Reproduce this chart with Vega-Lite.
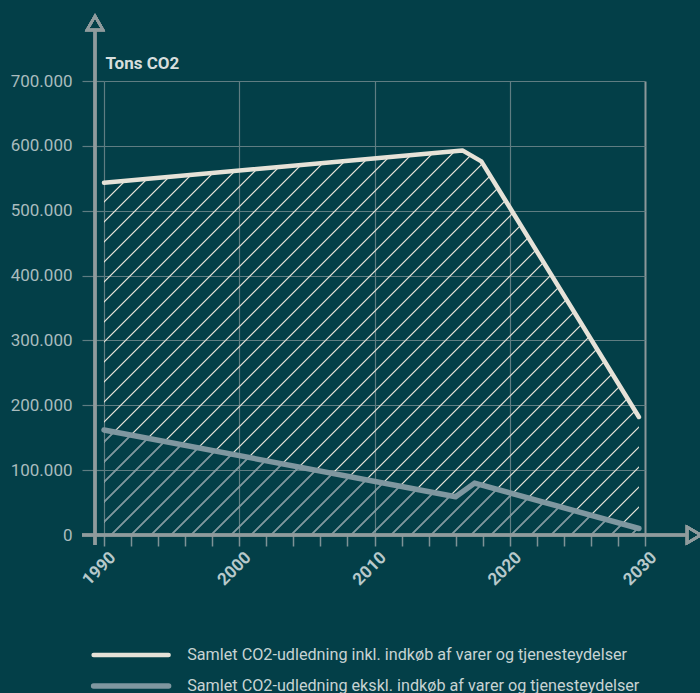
{
  "$schema": "https://vega.github.io/schema/vega-lite/v6.json",
  "width": 541,
  "height": 454,
  "autosize": "none",
  "padding": {"left": 104, "top": 81, "right": 55, "bottom": 158},
  "background": "#033f48",
  "config": {
    "view": {"stroke": null},
    "axis": {"domain": false, "labelOverlap": false},
    "axisX": {"labelOverlap": false, "labelFlush": false},
    "legend": {
      "orient": "none", "legendX": 19, "legendY": 566, "title": null, "direction": "vertical",
      "symbolType": "M-7.5,0H7.5", "symbolSize": 100, "symbolStrokeWidth": 5,
      "labelFont": "Roboto", "labelFontSize": 16.2, "labelColor": "#c7d3d3", "labelOffset": 48,
      "rowPadding": 10, "padding": 0, "labelLimit": 600
    }
  },
  "data": {
    "values": [
      {"year": 1990, "value": 543000, "k": "inkl", "serie": "Samlet CO2-udledning inkl. indkøb af varer og tjenesteydelser"},
      {"year": 2016.5, "value": 593000, "k": "inkl", "serie": "Samlet CO2-udledning inkl. indkøb af varer og tjenesteydelser"},
      {"year": 2017.9, "value": 576000, "k": "inkl", "serie": "Samlet CO2-udledning inkl. indkøb af varer og tjenesteydelser"},
      {"year": 2029.55, "value": 182000, "k": "inkl", "serie": "Samlet CO2-udledning inkl. indkøb af varer og tjenesteydelser"},
      {"year": 1990, "value": 162000, "k": "ekskl", "serie": "Samlet CO2-udledning ekskl. indkøb af varer og tjenesteydelser"},
      {"year": 2016, "value": 59000, "k": "ekskl", "serie": "Samlet CO2-udledning ekskl. indkøb af varer og tjenesteydelser"},
      {"year": 2017.4, "value": 80000, "k": "ekskl", "serie": "Samlet CO2-udledning ekskl. indkøb af varer og tjenesteydelser"},
      {"year": 2029.55, "value": 10000, "k": "ekskl", "serie": "Samlet CO2-udledning ekskl. indkøb af varer og tjenesteydelser"}
    ]
  },
  "layer": [
    {
      "transform": [{"filter": "datum.k == 'inkl'"}],
      "mark": {
        "type": "area",
        "color": {
          "gradient": "linear", "x1": 0, "y1": 0, "x2": 1.13319, "y2": 0.81476,
          "stops": [
            {"offset": 0.011215, "color": "rgba(230,226,216,0)"}, {"offset": 0.012115, "color": "#e6e2d8"}, {"offset": 0.013115, "color": "#e6e2d8"}, {"offset": 0.014015, "color": "rgba(230,226,216,0)"},
            {"offset": 0.032966, "color": "rgba(230,226,216,0)"}, {"offset": 0.033866, "color": "#e6e2d8"}, {"offset": 0.034866, "color": "#e6e2d8"}, {"offset": 0.035766, "color": "rgba(230,226,216,0)"},
            {"offset": 0.054716, "color": "rgba(230,226,216,0)"}, {"offset": 0.055616, "color": "#e6e2d8"}, {"offset": 0.056616, "color": "#e6e2d8"}, {"offset": 0.057516, "color": "rgba(230,226,216,0)"},
            {"offset": 0.076467, "color": "rgba(230,226,216,0)"}, {"offset": 0.077367, "color": "#e6e2d8"}, {"offset": 0.078367, "color": "#e6e2d8"}, {"offset": 0.079267, "color": "rgba(230,226,216,0)"},
            {"offset": 0.098218, "color": "rgba(230,226,216,0)"}, {"offset": 0.099118, "color": "#e6e2d8"}, {"offset": 0.100118, "color": "#e6e2d8"}, {"offset": 0.101018, "color": "rgba(230,226,216,0)"},
            {"offset": 0.119969, "color": "rgba(230,226,216,0)"}, {"offset": 0.120869, "color": "#e6e2d8"}, {"offset": 0.121869, "color": "#e6e2d8"}, {"offset": 0.122769, "color": "rgba(230,226,216,0)"},
            {"offset": 0.141719, "color": "rgba(230,226,216,0)"}, {"offset": 0.142619, "color": "#e6e2d8"}, {"offset": 0.143619, "color": "#e6e2d8"}, {"offset": 0.144519, "color": "rgba(230,226,216,0)"},
            {"offset": 0.163470, "color": "rgba(230,226,216,0)"}, {"offset": 0.164370, "color": "#e6e2d8"}, {"offset": 0.165370, "color": "#e6e2d8"}, {"offset": 0.166270, "color": "rgba(230,226,216,0)"},
            {"offset": 0.185221, "color": "rgba(230,226,216,0)"}, {"offset": 0.186121, "color": "#e6e2d8"}, {"offset": 0.187121, "color": "#e6e2d8"}, {"offset": 0.188021, "color": "rgba(230,226,216,0)"},
            {"offset": 0.206971, "color": "rgba(230,226,216,0)"}, {"offset": 0.207871, "color": "#e6e2d8"}, {"offset": 0.208871, "color": "#e6e2d8"}, {"offset": 0.209771, "color": "rgba(230,226,216,0)"},
            {"offset": 0.228722, "color": "rgba(230,226,216,0)"}, {"offset": 0.229622, "color": "#e6e2d8"}, {"offset": 0.230622, "color": "#e6e2d8"}, {"offset": 0.231522, "color": "rgba(230,226,216,0)"},
            {"offset": 0.250473, "color": "rgba(230,226,216,0)"}, {"offset": 0.251373, "color": "#e6e2d8"}, {"offset": 0.252373, "color": "#e6e2d8"}, {"offset": 0.253273, "color": "rgba(230,226,216,0)"},
            {"offset": 0.272223, "color": "rgba(230,226,216,0)"}, {"offset": 0.273123, "color": "#e6e2d8"}, {"offset": 0.274123, "color": "#e6e2d8"}, {"offset": 0.275023, "color": "rgba(230,226,216,0)"},
            {"offset": 0.293974, "color": "rgba(230,226,216,0)"}, {"offset": 0.294874, "color": "#e6e2d8"}, {"offset": 0.295874, "color": "#e6e2d8"}, {"offset": 0.296774, "color": "rgba(230,226,216,0)"},
            {"offset": 0.315725, "color": "rgba(230,226,216,0)"}, {"offset": 0.316625, "color": "#e6e2d8"}, {"offset": 0.317625, "color": "#e6e2d8"}, {"offset": 0.318525, "color": "rgba(230,226,216,0)"},
            {"offset": 0.337476, "color": "rgba(230,226,216,0)"}, {"offset": 0.338376, "color": "#e6e2d8"}, {"offset": 0.339376, "color": "#e6e2d8"}, {"offset": 0.340276, "color": "rgba(230,226,216,0)"},
            {"offset": 0.359226, "color": "rgba(230,226,216,0)"}, {"offset": 0.360126, "color": "#e6e2d8"}, {"offset": 0.361126, "color": "#e6e2d8"}, {"offset": 0.362026, "color": "rgba(230,226,216,0)"},
            {"offset": 0.380977, "color": "rgba(230,226,216,0)"}, {"offset": 0.381877, "color": "#e6e2d8"}, {"offset": 0.382877, "color": "#e6e2d8"}, {"offset": 0.383777, "color": "rgba(230,226,216,0)"},
            {"offset": 0.402728, "color": "rgba(230,226,216,0)"}, {"offset": 0.403628, "color": "#e6e2d8"}, {"offset": 0.404628, "color": "#e6e2d8"}, {"offset": 0.405528, "color": "rgba(230,226,216,0)"},
            {"offset": 0.424478, "color": "rgba(230,226,216,0)"}, {"offset": 0.425378, "color": "#e6e2d8"}, {"offset": 0.426378, "color": "#e6e2d8"}, {"offset": 0.427278, "color": "rgba(230,226,216,0)"},
            {"offset": 0.446229, "color": "rgba(230,226,216,0)"}, {"offset": 0.447129, "color": "#e6e2d8"}, {"offset": 0.448129, "color": "#e6e2d8"}, {"offset": 0.449029, "color": "rgba(230,226,216,0)"},
            {"offset": 0.467980, "color": "rgba(230,226,216,0)"}, {"offset": 0.468880, "color": "#e6e2d8"}, {"offset": 0.469880, "color": "#e6e2d8"}, {"offset": 0.470780, "color": "rgba(230,226,216,0)"},
            {"offset": 0.489730, "color": "rgba(230,226,216,0)"}, {"offset": 0.490630, "color": "#e6e2d8"}, {"offset": 0.491630, "color": "#e6e2d8"}, {"offset": 0.492530, "color": "rgba(230,226,216,0)"},
            {"offset": 0.511481, "color": "rgba(230,226,216,0)"}, {"offset": 0.512381, "color": "#e6e2d8"}, {"offset": 0.513381, "color": "#e6e2d8"}, {"offset": 0.514281, "color": "rgba(230,226,216,0)"},
            {"offset": 0.533232, "color": "rgba(230,226,216,0)"}, {"offset": 0.534132, "color": "#e6e2d8"}, {"offset": 0.535132, "color": "#e6e2d8"}, {"offset": 0.536032, "color": "rgba(230,226,216,0)"},
            {"offset": 0.554983, "color": "rgba(230,226,216,0)"}, {"offset": 0.555883, "color": "#e6e2d8"}, {"offset": 0.556883, "color": "#e6e2d8"}, {"offset": 0.557783, "color": "rgba(230,226,216,0)"},
            {"offset": 0.576733, "color": "rgba(230,226,216,0)"}, {"offset": 0.577633, "color": "#e6e2d8"}, {"offset": 0.578633, "color": "#e6e2d8"}, {"offset": 0.579533, "color": "rgba(230,226,216,0)"},
            {"offset": 0.598484, "color": "rgba(230,226,216,0)"}, {"offset": 0.599384, "color": "#e6e2d8"}, {"offset": 0.600384, "color": "#e6e2d8"}, {"offset": 0.601284, "color": "rgba(230,226,216,0)"},
            {"offset": 0.620235, "color": "rgba(230,226,216,0)"}, {"offset": 0.621135, "color": "#e6e2d8"}, {"offset": 0.622135, "color": "#e6e2d8"}, {"offset": 0.623035, "color": "rgba(230,226,216,0)"},
            {"offset": 0.641985, "color": "rgba(230,226,216,0)"}, {"offset": 0.642885, "color": "#e6e2d8"}, {"offset": 0.643885, "color": "#e6e2d8"}, {"offset": 0.644785, "color": "rgba(230,226,216,0)"},
            {"offset": 0.663736, "color": "rgba(230,226,216,0)"}, {"offset": 0.664636, "color": "#e6e2d8"}, {"offset": 0.665636, "color": "#e6e2d8"}, {"offset": 0.666536, "color": "rgba(230,226,216,0)"},
            {"offset": 0.685487, "color": "rgba(230,226,216,0)"}, {"offset": 0.686387, "color": "#e6e2d8"}, {"offset": 0.687387, "color": "#e6e2d8"}, {"offset": 0.688287, "color": "rgba(230,226,216,0)"},
            {"offset": 0.707237, "color": "rgba(230,226,216,0)"}, {"offset": 0.708137, "color": "#e6e2d8"}, {"offset": 0.709137, "color": "#e6e2d8"}, {"offset": 0.710037, "color": "rgba(230,226,216,0)"},
            {"offset": 0.728988, "color": "rgba(230,226,216,0)"}, {"offset": 0.729888, "color": "#e6e2d8"}, {"offset": 0.730888, "color": "#e6e2d8"}, {"offset": 0.731788, "color": "rgba(230,226,216,0)"},
            {"offset": 0.750739, "color": "rgba(230,226,216,0)"}, {"offset": 0.751639, "color": "#e6e2d8"}, {"offset": 0.752639, "color": "#e6e2d8"}, {"offset": 0.753539, "color": "rgba(230,226,216,0)"},
            {"offset": 0.772490, "color": "rgba(230,226,216,0)"}, {"offset": 0.773390, "color": "#e6e2d8"}, {"offset": 0.774390, "color": "#e6e2d8"}, {"offset": 0.775290, "color": "rgba(230,226,216,0)"},
            {"offset": 0.794240, "color": "rgba(230,226,216,0)"}, {"offset": 0.795140, "color": "#e6e2d8"}, {"offset": 0.796140, "color": "#e6e2d8"}, {"offset": 0.797040, "color": "rgba(230,226,216,0)"},
            {"offset": 0.815991, "color": "rgba(230,226,216,0)"}, {"offset": 0.816891, "color": "#e6e2d8"}, {"offset": 0.817891, "color": "#e6e2d8"}, {"offset": 0.818791, "color": "rgba(230,226,216,0)"},
            {"offset": 0.837742, "color": "rgba(230,226,216,0)"}, {"offset": 0.838642, "color": "#e6e2d8"}, {"offset": 0.839642, "color": "#e6e2d8"}, {"offset": 0.840542, "color": "rgba(230,226,216,0)"},
            {"offset": 0.859492, "color": "rgba(230,226,216,0)"}, {"offset": 0.860392, "color": "#e6e2d8"}, {"offset": 0.861392, "color": "#e6e2d8"}, {"offset": 0.862292, "color": "rgba(230,226,216,0)"},
            {"offset": 0.881243, "color": "rgba(230,226,216,0)"}, {"offset": 0.882143, "color": "#e6e2d8"}, {"offset": 0.883143, "color": "#e6e2d8"}, {"offset": 0.884043, "color": "rgba(230,226,216,0)"},
            {"offset": 0.902994, "color": "rgba(230,226,216,0)"}, {"offset": 0.903894, "color": "#e6e2d8"}, {"offset": 0.904894, "color": "#e6e2d8"}, {"offset": 0.905794, "color": "rgba(230,226,216,0)"},
            {"offset": 0.924744, "color": "rgba(230,226,216,0)"}, {"offset": 0.925644, "color": "#e6e2d8"}, {"offset": 0.926644, "color": "#e6e2d8"}, {"offset": 0.927544, "color": "rgba(230,226,216,0)"},
            {"offset": 0.946495, "color": "rgba(230,226,216,0)"}, {"offset": 0.947395, "color": "#e6e2d8"}, {"offset": 0.948395, "color": "#e6e2d8"}, {"offset": 0.949295, "color": "rgba(230,226,216,0)"},
            {"offset": 0.968246, "color": "rgba(230,226,216,0)"}, {"offset": 0.969146, "color": "#e6e2d8"}, {"offset": 0.970146, "color": "#e6e2d8"}, {"offset": 0.971046, "color": "rgba(230,226,216,0)"},
            {"offset": 0.989997, "color": "rgba(230,226,216,0)"}, {"offset": 0.990897, "color": "#e6e2d8"}, {"offset": 0.991897, "color": "#e6e2d8"}, {"offset": 0.992797, "color": "rgba(230,226,216,0)"}
          ]
        }
      },
      "encoding": {
        "x": {
          "field": "year", "type": "quantitative",
          "scale": {"domain": [1990, 2030], "nice": false, "zero": false},
          "axis": {
            "values": [1990, 1992, 1994, 1996, 1998, 2000, 2002, 2004, 2006, 2008, 2010, 2012, 2014, 2016, 2018, 2020, 2022, 2024, 2026, 2028, 2030],
            "tickCount": 30,
            "grid": true,
            "gridColor": {"condition": {"test": "datum.value == 2030", "value": "#8c9799"}, "value": "#5f7d82"},
            "gridOpacity": {"condition": {"test": "datum.value % 10 == 0", "value": 1}, "value": 0},
            "gridWidth": {"condition": {"test": "datum.value == 2030", "value": 2}, "value": 1.2},
            "tickSize": 11, "tickColor": "#7e9296", "tickWidth": 1.5,
            "labelExpr": "datum.value % 10 == 0 ? datum.label : ''",
            "labelFontSize": {"condition": {"test": "datum.value % 10 != 0", "value": 0}, "value": 17},
            "labelAngle": -45, "labelFont": "Roboto", "labelFontWeight": "bold",
            "labelColor": "#b7c9cb", "labelPadding": 3, "labelOffset": 3, "labelOverlap": false, "labelFlush": false,
            "format": "d", "title": null
          }
        },
        "y": {
          "field": "value", "type": "quantitative", "title": "Tons CO2",
          "scale": {"domain": [0, 700000], "nice": false},
          "axis": {
            "values": [0, 100000, 200000, 300000, 400000, 500000, 600000, 700000],
            "tickCount": 10,
            "grid": true, "gridColor": "#5f7d82", "gridWidth": 1.2,
            "tickSize": 22, "tickColor": "#5f7d82", "tickWidth": 1.2,
            "labelExpr": "datum.value == 0 ? '0' : (datum.value / 1000) + '.000'",
            "labelFont": "Roboto", "labelFontSize": 17, "labelColor": "#a9bcbe", "labelPadding": 10,
            "titleAngle": 0, "titleAlign": "left", "titleBaseline": "alphabetic", "titleX": 1, "titleY": -13,
            "titleFont": "Roboto", "titleFontSize": 17, "titleFontWeight": "bold", "titleColor": "#d7dedd"
          }
        }
      }
    },
    {
      "transform": [{"filter": "datum.k == 'ekskl'"}],
      "mark": {
        "type": "area",
        "color": {
          "gradient": "linear", "x1": 0, "y1": 0, "x2": 1.15198, "y2": 0.22628,
          "stops": [
            {"offset": 0.016760, "color": "rgba(127,151,160,0)"}, {"offset": 0.017960, "color": "#7f97a0"}, {"offset": 0.019760, "color": "#7f97a0"}, {"offset": 0.020960, "color": "rgba(127,151,160,0)"},
            {"offset": 0.048011, "color": "rgba(127,151,160,0)"}, {"offset": 0.049211, "color": "#7f97a0"}, {"offset": 0.051011, "color": "#7f97a0"}, {"offset": 0.052211, "color": "rgba(127,151,160,0)"},
            {"offset": 0.079262, "color": "rgba(127,151,160,0)"}, {"offset": 0.080462, "color": "#7f97a0"}, {"offset": 0.082262, "color": "#7f97a0"}, {"offset": 0.083462, "color": "rgba(127,151,160,0)"},
            {"offset": 0.110513, "color": "rgba(127,151,160,0)"}, {"offset": 0.111713, "color": "#7f97a0"}, {"offset": 0.113513, "color": "#7f97a0"}, {"offset": 0.114713, "color": "rgba(127,151,160,0)"},
            {"offset": 0.141764, "color": "rgba(127,151,160,0)"}, {"offset": 0.142964, "color": "#7f97a0"}, {"offset": 0.144764, "color": "#7f97a0"}, {"offset": 0.145964, "color": "rgba(127,151,160,0)"},
            {"offset": 0.173015, "color": "rgba(127,151,160,0)"}, {"offset": 0.174215, "color": "#7f97a0"}, {"offset": 0.176015, "color": "#7f97a0"}, {"offset": 0.177215, "color": "rgba(127,151,160,0)"},
            {"offset": 0.204266, "color": "rgba(127,151,160,0)"}, {"offset": 0.205466, "color": "#7f97a0"}, {"offset": 0.207266, "color": "#7f97a0"}, {"offset": 0.208466, "color": "rgba(127,151,160,0)"},
            {"offset": 0.235517, "color": "rgba(127,151,160,0)"}, {"offset": 0.236717, "color": "#7f97a0"}, {"offset": 0.238517, "color": "#7f97a0"}, {"offset": 0.239717, "color": "rgba(127,151,160,0)"},
            {"offset": 0.266768, "color": "rgba(127,151,160,0)"}, {"offset": 0.267968, "color": "#7f97a0"}, {"offset": 0.269768, "color": "#7f97a0"}, {"offset": 0.270968, "color": "rgba(127,151,160,0)"},
            {"offset": 0.298019, "color": "rgba(127,151,160,0)"}, {"offset": 0.299219, "color": "#7f97a0"}, {"offset": 0.301019, "color": "#7f97a0"}, {"offset": 0.302219, "color": "rgba(127,151,160,0)"},
            {"offset": 0.329270, "color": "rgba(127,151,160,0)"}, {"offset": 0.330470, "color": "#7f97a0"}, {"offset": 0.332270, "color": "#7f97a0"}, {"offset": 0.333470, "color": "rgba(127,151,160,0)"},
            {"offset": 0.360521, "color": "rgba(127,151,160,0)"}, {"offset": 0.361721, "color": "#7f97a0"}, {"offset": 0.363521, "color": "#7f97a0"}, {"offset": 0.364721, "color": "rgba(127,151,160,0)"},
            {"offset": 0.391772, "color": "rgba(127,151,160,0)"}, {"offset": 0.392972, "color": "#7f97a0"}, {"offset": 0.394772, "color": "#7f97a0"}, {"offset": 0.395972, "color": "rgba(127,151,160,0)"},
            {"offset": 0.423023, "color": "rgba(127,151,160,0)"}, {"offset": 0.424223, "color": "#7f97a0"}, {"offset": 0.426023, "color": "#7f97a0"}, {"offset": 0.427223, "color": "rgba(127,151,160,0)"},
            {"offset": 0.454274, "color": "rgba(127,151,160,0)"}, {"offset": 0.455474, "color": "#7f97a0"}, {"offset": 0.457274, "color": "#7f97a0"}, {"offset": 0.458474, "color": "rgba(127,151,160,0)"},
            {"offset": 0.485525, "color": "rgba(127,151,160,0)"}, {"offset": 0.486725, "color": "#7f97a0"}, {"offset": 0.488525, "color": "#7f97a0"}, {"offset": 0.489725, "color": "rgba(127,151,160,0)"},
            {"offset": 0.516776, "color": "rgba(127,151,160,0)"}, {"offset": 0.517976, "color": "#7f97a0"}, {"offset": 0.519776, "color": "#7f97a0"}, {"offset": 0.520976, "color": "rgba(127,151,160,0)"},
            {"offset": 0.548027, "color": "rgba(127,151,160,0)"}, {"offset": 0.549227, "color": "#7f97a0"}, {"offset": 0.551027, "color": "#7f97a0"}, {"offset": 0.552227, "color": "rgba(127,151,160,0)"},
            {"offset": 0.579278, "color": "rgba(127,151,160,0)"}, {"offset": 0.580478, "color": "#7f97a0"}, {"offset": 0.582278, "color": "#7f97a0"}, {"offset": 0.583478, "color": "rgba(127,151,160,0)"},
            {"offset": 0.610529, "color": "rgba(127,151,160,0)"}, {"offset": 0.611729, "color": "#7f97a0"}, {"offset": 0.613529, "color": "#7f97a0"}, {"offset": 0.614729, "color": "rgba(127,151,160,0)"},
            {"offset": 0.641780, "color": "rgba(127,151,160,0)"}, {"offset": 0.642980, "color": "#7f97a0"}, {"offset": 0.644780, "color": "#7f97a0"}, {"offset": 0.645980, "color": "rgba(127,151,160,0)"},
            {"offset": 0.673031, "color": "rgba(127,151,160,0)"}, {"offset": 0.674231, "color": "#7f97a0"}, {"offset": 0.676031, "color": "#7f97a0"}, {"offset": 0.677231, "color": "rgba(127,151,160,0)"},
            {"offset": 0.704282, "color": "rgba(127,151,160,0)"}, {"offset": 0.705482, "color": "#7f97a0"}, {"offset": 0.707282, "color": "#7f97a0"}, {"offset": 0.708482, "color": "rgba(127,151,160,0)"},
            {"offset": 0.735533, "color": "rgba(127,151,160,0)"}, {"offset": 0.736733, "color": "#7f97a0"}, {"offset": 0.738533, "color": "#7f97a0"}, {"offset": 0.739733, "color": "rgba(127,151,160,0)"},
            {"offset": 0.766784, "color": "rgba(127,151,160,0)"}, {"offset": 0.767984, "color": "#7f97a0"}, {"offset": 0.769784, "color": "#7f97a0"}, {"offset": 0.770984, "color": "rgba(127,151,160,0)"},
            {"offset": 0.798035, "color": "rgba(127,151,160,0)"}, {"offset": 0.799235, "color": "#7f97a0"}, {"offset": 0.801035, "color": "#7f97a0"}, {"offset": 0.802235, "color": "rgba(127,151,160,0)"},
            {"offset": 0.829286, "color": "rgba(127,151,160,0)"}, {"offset": 0.830486, "color": "#7f97a0"}, {"offset": 0.832286, "color": "#7f97a0"}, {"offset": 0.833486, "color": "rgba(127,151,160,0)"},
            {"offset": 0.860537, "color": "rgba(127,151,160,0)"}, {"offset": 0.861737, "color": "#7f97a0"}, {"offset": 0.863537, "color": "#7f97a0"}, {"offset": 0.864737, "color": "rgba(127,151,160,0)"},
            {"offset": 0.891788, "color": "rgba(127,151,160,0)"}, {"offset": 0.892988, "color": "#7f97a0"}, {"offset": 0.894788, "color": "#7f97a0"}, {"offset": 0.895988, "color": "rgba(127,151,160,0)"},
            {"offset": 0.923039, "color": "rgba(127,151,160,0)"}, {"offset": 0.924239, "color": "#7f97a0"}, {"offset": 0.926039, "color": "#7f97a0"}, {"offset": 0.927239, "color": "rgba(127,151,160,0)"},
            {"offset": 0.954290, "color": "rgba(127,151,160,0)"}, {"offset": 0.955490, "color": "#7f97a0"}, {"offset": 0.957290, "color": "#7f97a0"}, {"offset": 0.958490, "color": "rgba(127,151,160,0)"},
            {"offset": 0.985541, "color": "rgba(127,151,160,0)"}, {"offset": 0.986741, "color": "#7f97a0"}, {"offset": 0.988541, "color": "#7f97a0"}, {"offset": 0.989741, "color": "rgba(127,151,160,0)"}
          ]
        }
      },
      "encoding": {
        "x": {"field": "year", "type": "quantitative", "title": null},
        "y": {"field": "value", "type": "quantitative", "title": "Tons CO2"}
      }
    },
    {
      "mark": {"type": "rule", "color": "#8f9b9d", "strokeWidth": 2.5},
      "encoding": {
        "x": {"datum": 1989.3346, "type": "quantitative"},
        "y": {"datum": -15400, "type": "quantitative"},
        "y2": {"datum": 779000}
      }
    },
    {
      "mark": {"type": "rule", "color": "#8f9b9d", "strokeWidth": 2.5},
      "encoding": {
        "y": {"datum": 0, "type": "quantitative"},
        "x": {"datum": 1988.373, "type": "quantitative"},
        "x2": {"datum": 2033.1}
      }
    },
    {
      "mark": {"type": "point", "shape": "triangle-up", "size": 256, "filled": false, "color": "#8f9b9d", "strokeWidth": 2.5, "opacity": 1},
      "encoding": {
        "x": {"datum": 1989.3346, "type": "quantitative"},
        "y": {"datum": 789400, "type": "quantitative"}
      }
    },
    {
      "mark": {"type": "point", "shape": "triangle-right", "size": 256, "filled": false, "color": "#8f9b9d", "strokeWidth": 2.5, "opacity": 1},
      "encoding": {
        "x": {"datum": 2033.62, "type": "quantitative"},
        "y": {"datum": 0, "type": "quantitative"}
      }
    },
    {
      "mark": {"type": "line", "strokeCap": "round", "strokeJoin": "round"},
      "encoding": {
        "x": {"field": "year", "type": "quantitative", "title": null},
        "y": {"field": "value", "type": "quantitative", "title": "Tons CO2"},
        "color": {
          "field": "serie", "type": "nominal",
          "scale": {
            "domain": ["Samlet CO2-udledning inkl. indkøb af varer og tjenesteydelser", "Samlet CO2-udledning ekskl. indkøb af varer og tjenesteydelser"],
            "range": ["#e6e2d8", "#7f97a0"]
          },
          "legend": {"encode": {"symbols": {"update": {"strokeCap": {"value": "round"}}}}}
        },
        "strokeWidth": {
          "field": "serie", "type": "nominal",
          "scale": {
            "domain": ["Samlet CO2-udledning inkl. indkøb af varer og tjenesteydelser", "Samlet CO2-udledning ekskl. indkøb af varer og tjenesteydelser"],
            "range": [4.5, 5.5]
          },
          "legend": null
        }
      }
    }
  ]
}
